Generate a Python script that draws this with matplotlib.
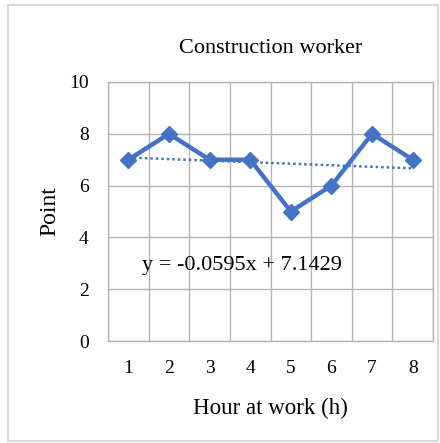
import numpy as np
import matplotlib.pyplot as plt
from matplotlib.patches import Rectangle

# DATOS
horas = [1, 2, 3, 4, 5, 6, 7, 8]
puntos = [7, 8, 7, 7, 5, 6, 8, 7]
yticks = [0, 2, 4, 6, 8, 10]

azul = "#4472C4"
gris = "#B4B4B4"

plt.rcParams["font.family"] = ["Liberation Serif", "DejaVu Serif"]

# Tendencia lineal
m, b = np.polyfit(horas, puntos, 1)
x_t = np.array(horas, dtype=float)

fig = plt.figure(figsize=(4.4, 4.43), dpi=100)
ax = fig.add_axes([108 / 440, 1 - 341 / 443, 325 / 440, 259 / 443])

ax.plot(horas, puntos, color=azul, linewidth=3.2, marker="D", markersize=8.5, zorder=3)
ax.plot(x_t, m * x_t + b, color=azul, linewidth=1.8, linestyle=(0, (1, 1.2)), zorder=2)

ax.set_xlim(0.5, 8.5)
ax.set_ylim(0, 10)
ax.set_yticks(yticks)
ax.set_xticks(horas)
ax.set_xticks(np.arange(0.5, 9, 1), minor=True)
ax.grid(True, which="minor", axis="x", color=gris, linewidth=1)
ax.grid(True, which="major", axis="y", color=gris, linewidth=1)
ax.tick_params(which="both", length=0, labelsize=14)
ax.tick_params(axis="x", pad=14)
ax.tick_params(axis="y", pad=14)
for s in ax.spines.values():
    s.set_color(gris)
    s.set_linewidth(1)

ax.set_title("Construction worker", fontsize=16, pad=21)
ax.set_xlabel("Hour at work (h)", fontsize=16.5, labelpad=15)
ax.set_ylabel("Point", fontsize=17, labelpad=6)

ax.text(3.8, 2.93, f"y = {m:.4f}x + {b:.4f}", fontsize=16,
        ha="center", va="center")

# Marco del gráfico
fig.patches.append(Rectangle((8 / 440, 2 / 443), 430 / 440, 436 / 443,
                             transform=fig.transFigure, fill=False,
                             edgecolor="#D9D9D9", linewidth=1.5))

fig.savefig("out.png", dpi=100)
